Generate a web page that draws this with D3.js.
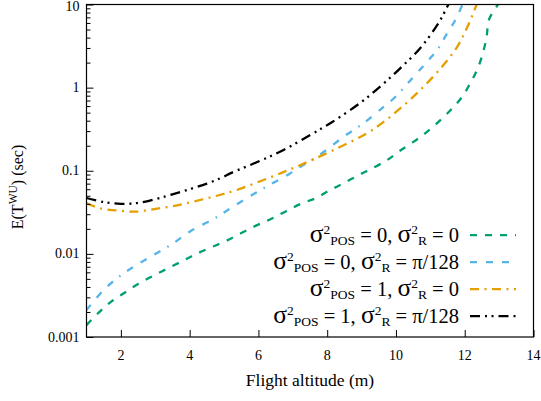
<!DOCTYPE html>
<html>
<head>
<meta charset="utf-8">
<script src="https://cdn.jsdelivr.net/npm/d3@7/dist/d3.min.js"></script>
<style>
  html, body { margin: 0; padding: 0; background: #fff; }
  svg { display: block; }
</style>
</head>
<body>
<svg id="chart" width="541" height="401"></svg>
<script>
// Flight altitude (m) and expected wake-up time E(T^WU) in seconds, per noise setting
const altPos0R0  = [1.0, 1.38, 1.72, 2.11, 2.5, 2.93, 3.37, 3.81, 4.19, 4.63, 5.07, 5.86, 6.35, 6.78, 7.22, 7.66, 8.09, 8.48, 8.92, 9.31, 9.75, 10.08, 10.52, 10.91, 11.3, 11.64, 11.93, 12.17, 12.38, 12.54, 12.64, 12.7, 12.94, 13.0];
const ewuPos0R0  = [0.00139, 0.00201, 0.00266, 0.00341, 0.00434, 0.00542, 0.00671, 0.00828, 0.00997, 0.012, 0.0144, 0.0212, 0.0261, 0.0322, 0.0398, 0.0467, 0.0587, 0.0708, 0.0889, 0.107, 0.135, 0.17, 0.224, 0.296, 0.409, 0.565, 0.78, 1.15, 1.71, 2.71, 4.19, 6.5, 9.6, 10.5];

const altPos0Rpi = [1.0, 1.5, 2.0, 2.5, 3.0, 3.5, 4.0, 4.73, 5.26, 6.06, 6.93, 7.22, 7.71, 8.48, 9.06, 9.65, 9.94, 10.52, 10.91, 11.2, 11.49, 11.73, 11.93, 12.0];
const ewuPos0Rpi = [0.00211, 0.00368, 0.00553, 0.00755, 0.00997, 0.0132, 0.0185, 0.0268, 0.037, 0.0587, 0.0933, 0.112, 0.148, 0.257, 0.373, 0.59, 0.745, 1.36, 2.06, 2.84, 4.52, 6.53, 9.9, 11.5];

const altPos1R0  = [1.0, 1.39, 2.06, 2.45, 2.93, 3.42, 3.9, 4.39, 4.87, 5.31, 6.4, 7.22, 8.19, 9.16, 9.65, 10.13, 10.71, 11.3, 11.78, 12.08, 12.32, 12.4];
const ewuPos1R0  = [0.0406, 0.0354, 0.0328, 0.0322, 0.0344, 0.037, 0.0406, 0.0454, 0.0511, 0.0576, 0.085, 0.117, 0.178, 0.283, 0.39, 0.565, 0.94, 1.71, 3.1, 5.4, 9.4, 11.5];

const altPos1Rpi = [1.0, 1.5, 2.0, 2.5, 3.0, 3.5, 4.0, 4.5, 5.0, 5.18, 6.0, 6.73, 7.51, 8.09, 8.97, 9.64, 10.13, 10.71, 11.24, 11.49, 11.6];
const ewuPos1Rpi = [0.047, 0.042, 0.040, 0.041, 0.0455, 0.052, 0.060, 0.0700, 0.085, 0.093, 0.129, 0.178, 0.27, 0.373, 0.66, 1.12, 1.72, 3.0, 6.0, 9.4, 11.5];

const xTickValues = [2, 4, 6, 8, 10, 12, 14];
const yTickValues = [0.001, 0.01, 0.1, 1, 10];
const yTickLabels = ["0.001", "0.01", "0.1", "1", "10"];

const seriesLabels = [
  { pos: "0", r: "0" },
  { pos: "0", r: "π/128" },
  { pos: "1", r: "0" },
  { pos: "1", r: "π/128" }
];
const seriesX = [altPos0R0, altPos0Rpi, altPos1R0, altPos1Rpi];
const seriesY = [ewuPos0R0, ewuPos0Rpi, ewuPos1R0, ewuPos1Rpi];
const seriesColors = ["#009e73", "#56b4e9", "#e69f00", "#000000"];
const seriesDash = ["7,8", "7,9,7,9,7,8,1.5,8", "9,5.5,2,5.5", "10,5,2,4.5,2,5"];

const FONT = '"Liberation Serif", "Times New Roman", serif';

const svg = d3.select("#chart").style("font-family", FONT);
const plotL = 86.5, plotR = 533.5, plotT = 4.5, plotB = 337;

const x = d3.scaleLinear().domain([1, 14]).range([plotL, plotR]);
const y = d3.scaleLog().domain([0.001, 10]).range([plotB, plotT]);

svg.append("defs").append("clipPath").attr("id", "plotClip")
  .append("rect").attr("x", plotL).attr("y", plotT)
  .attr("width", plotR - plotL).attr("height", plotB - plotT);

// curves
const line = d3.line().x(d => x(d[0])).y(d => y(d[1])).curve(d3.curveCatmullRom.alpha(0.5));
const curves = svg.append("g").attr("clip-path", "url(#plotClip)");
seriesX.forEach((xs, i) => {
  const pts = xs.map((v, j) => [v, seriesY[i][j]]);
  curves.append("path")
    .attr("d", line(pts))
    .attr("fill", "none")
    .attr("stroke", seriesColors[i])
    .attr("stroke-width", 2.3)
    .attr("stroke-dasharray", seriesDash[i]);
});

// y axis: major ticks with labels, minor ticks inside
const yAxis = d3.axisRight(y)
  .tickValues(yTickValues)
  .tickSize(7)
  .tickFormat("");
const yg = svg.append("g").attr("transform", `translate(${plotL},0)`).call(yAxis);
yg.select(".domain").remove();
yg.selectAll("line").attr("stroke", "#000").attr("stroke-width", 1);

const minorVals = [];
for (let e = -3; e < 1; e++) {
  for (let m = 2; m <= 9; m++) minorVals.push(m * Math.pow(10, e));
}
const yMinor = d3.axisRight(y).tickValues(minorVals).tickSize(4).tickFormat("");
const ymg = svg.append("g").attr("transform", `translate(${plotL},0)`).call(yMinor);
ymg.select(".domain").remove();
ymg.selectAll("line").attr("stroke", "#000").attr("stroke-width", 1);

svg.append("g").selectAll("text").data(yTickValues).join("text")
  .style("font-family", FONT)
  .attr("x", plotL - 7)
  .attr("y", d => Math.max(y(d) + 4.5, 11))
  .attr("text-anchor", "end")
  .attr("font-size", 14)
  .text((d, i) => yTickLabels[i]);

// x axis: ticks point up into the plot
const xAxis = d3.axisTop(x).tickValues(xTickValues).tickSize(7).tickFormat("");
const xg = svg.append("g").attr("transform", `translate(0,${plotB})`).call(xAxis);
xg.select(".domain").remove();
xg.selectAll("line").attr("stroke", "#000").attr("stroke-width", 1);

svg.append("g").selectAll("text").data(xTickValues).join("text")
  .style("font-family", FONT)
  .attr("x", d => x(d))
  .attr("y", plotB + 23)
  .attr("text-anchor", "middle")
  .attr("font-size", 14)
  .text(d => d);

// plot frame
svg.append("rect")
  .attr("x", plotL).attr("y", plotT)
  .attr("width", plotR - plotL).attr("height", plotB - plotT)
  .attr("fill", "none").attr("stroke", "#000").attr("stroke-width", 1.2);

// axis titles
svg.append("text")
  .style("font-family", FONT)
  .attr("x", 310)
  .attr("y", 386)
  .attr("text-anchor", "middle")
  .attr("font-size", 17.5)
  .text("Flight altitude (m)");

const yTitle = svg.append("text")
  .style("font-family", FONT)
  .attr("transform", "translate(23,187) rotate(-90)")
  .attr("text-anchor", "middle")
  .attr("font-size", 16);
yTitle.append("tspan").text("E(T");
yTitle.append("tspan").attr("dy", -6).attr("font-size", 11.5).text("WU");
yTitle.append("tspan").attr("dy", 6).text(") (sec)");

// legend
const legend = svg.append("g");
seriesLabels.forEach((s, i) => {
  const base = 241.7 + i * 27;
  const t = legend.append("text")
    .style("font-family", FONT)
    .attr("x", 459).attr("y", base)
    .attr("text-anchor", "end")
    .attr("font-size", 20.5);
  t.append("tspan").attr("font-size", 25.5).text("σ");
  t.append("tspan").attr("dy", -8).attr("font-size", 13.5).text("2");
  t.append("tspan").attr("dy", 11.5).attr("font-size", 13.5).text("POS");
  t.append("tspan").attr("dy", -3.5).text(` = ${s.pos}, `);
  t.append("tspan").attr("font-size", 25.5).text("σ");
  t.append("tspan").attr("dy", -8).attr("font-size", 13.5).text("2");
  t.append("tspan").attr("dy", 11.5).attr("font-size", 13.5).text("R");
  t.append("tspan").attr("dy", -3.5).text(` = ${s.r}`);

  legend.append("line")
    .attr("x1", 470).attr("x2", 516)
    .attr("y1", base - 6.5).attr("y2", base - 6.5)
    .attr("stroke", seriesColors[i])
    .attr("stroke-width", 2.3)
    .attr("stroke-dasharray", seriesDash[i]);
});
</script>
</body>
</html>
